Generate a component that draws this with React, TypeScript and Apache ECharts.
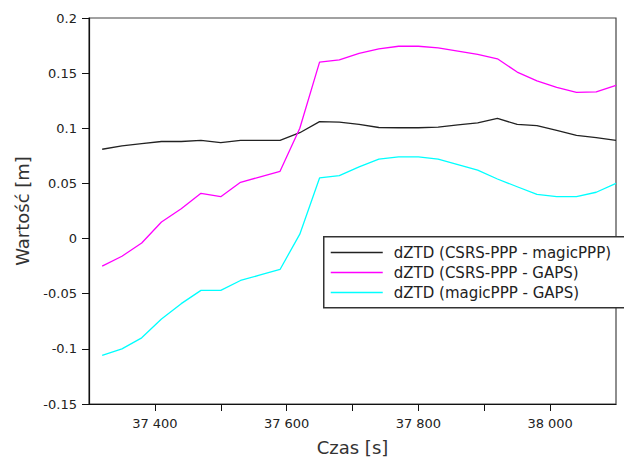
import React, { useEffect, useRef } from "react";
import * as echarts from "echarts";

const times = [
  37320, 37350, 37380, 37410, 37440, 37470, 37500, 37530, 37560, 37590,
  37620, 37650, 37680, 37710, 37740, 37770, 37800, 37830, 37860, 37890,
  37920, 37950, 37980, 38010, 38040, 38070, 38100,
];

const csrsMagic = [
  0.081, 0.084, 0.086, 0.088, 0.088, 0.089, 0.087, 0.089, 0.089, 0.089,
  0.096, 0.106, 0.1055, 0.1035, 0.1007, 0.1005, 0.1005, 0.101, 0.103, 0.105,
  0.109, 0.1035, 0.1025, 0.098, 0.0935, 0.0915, 0.089,
];

const csrsGaps = [
  -0.025, -0.016, -0.004, 0.015, 0.027, 0.041, 0.038, 0.051, 0.056, 0.061,
  0.1, 0.16, 0.162, 0.168, 0.172, 0.1744, 0.1744, 0.173, 0.17, 0.167,
  0.163, 0.151, 0.143, 0.137, 0.1325, 0.133, 0.139,
];

const magicGaps = [
  -0.106, -0.1, -0.09, -0.073, -0.059, -0.047, -0.047, -0.038, -0.033, -0.028,
  0.004, 0.055, 0.057, 0.065, 0.072, 0.074, 0.074, 0.072, 0.067, 0.062,
  0.054, 0.047, 0.04, 0.038, 0.038, 0.042, 0.05,
];

const seriesNames = [
  "dZTD (CSRS-PPP - magicPPP)",
  "dZTD (CSRS-PPP - GAPS)",
  "dZTD (magicPPP - GAPS)",
];

const xLabelTicks = [37400, 37600, 37800, 38000];

const pair = (vals: number[]) => times.map((t, i) => [t, vals[i]]);

export default function App() {
  const ref = useRef<HTMLDivElement>(null);
  useEffect(() => {
    if (!ref.current) return;
    const chart = echarts.init(ref.current, null, { renderer: "svg" });
    const font = "DejaVu Sans";
    chart.setOption({
      animation: false,
      backgroundColor: "#ffffff",
      grid: {
        left: 89,
        top: 18,
        right: 8,
        bottom: 53,
        outerBoundsMode: "none",
        containLabel: false,
        show: true,
        borderColor: "#444",
        borderWidth: 1.2,
        backgroundColor: "transparent",
      },
      xAxis: {
        type: "value",
        min: 37300,
        max: 38100,
        interval: 100,
        name: "Czas [s]",
        nameLocation: "middle",
        nameGap: 34,
        nameTextStyle: { fontFamily: font, fontSize: 18, color: "#333" },
        axisLine: { show: true, onZero: false, lineStyle: { color: "#111", width: 1.2 } },
        axisTick: { show: true, length: 7, lineStyle: { color: "#111" } },
        splitLine: { show: false },
        axisLabel: {
          margin: 13,
          fontFamily: font,
          fontSize: 13,
          color: "#222",
          showMinLabel: false,
          showMaxLabel: false,
          formatter: (v: number) => {
            if (!xLabelTicks.includes(v)) return "";
            const s = String(v);
            return s.slice(0, s.length - 3) + " " + s.slice(s.length - 3);
          },
        },
      },
      yAxis: {
        type: "value",
        min: -0.15,
        max: 0.2,
        interval: 0.05,
        name: "Wartość [m]",
        nameLocation: "middle",
        nameGap: 58,
        nameTextStyle: { fontFamily: font, fontSize: 18, color: "#333" },
        axisLine: { show: true, onZero: false, lineStyle: { color: "#111", width: 1.2 } },
        axisTick: { show: true, length: 7, lineStyle: { color: "#111" } },
        splitLine: { show: false },
        axisLabel: {
          margin: 12,
          fontFamily: font,
          fontSize: 13,
          color: "#222",
          formatter: (v: number) => String(parseFloat(v.toFixed(2))),
        },
      },
      legend: {
        orient: "vertical",
        left: 330,
        top: 245,
        itemWidth: 52,
        itemHeight: 14,
        itemGap: 5,
        padding: 0,
        data: seriesNames,
        itemStyle: { opacity: 0 },
        lineStyle: { width: 1.5 },
        textStyle: {
          fontFamily: font,
          fontSize: 15,
          color: "#222",
          padding: [0, 0, 0, 6],
        },
      },
      graphic: [
        {
          type: "rect",
          left: 323,
          top: 236,
          z: 3,
          shape: { width: 320, height: 71 },
          style: { fill: "#fff", stroke: "#333", lineWidth: 1.5 },
        },
      ],
      series: [
        {
          name: seriesNames[0],
          type: "line",
          data: pair(csrsMagic),
          symbol: "none",
          lineStyle: { color: "#222", width: 1.3 },
          itemStyle: { color: "#222" },
        },
        {
          name: seriesNames[1],
          type: "line",
          data: pair(csrsGaps),
          symbol: "none",
          lineStyle: { color: "#ff00ff", width: 1.3 },
          itemStyle: { color: "#ff00ff" },
        },
        {
          name: seriesNames[2],
          type: "line",
          data: pair(magicGaps),
          symbol: "none",
          lineStyle: { color: "#00ffff", width: 1.3 },
          itemStyle: { color: "#00ffff" },
        },
      ],
    });
    return () => chart.dispose();
  }, []);
  return <div ref={ref} style={{ width: 624, height: 457, position: "absolute", left: 0, top: 0 }} />;
}
